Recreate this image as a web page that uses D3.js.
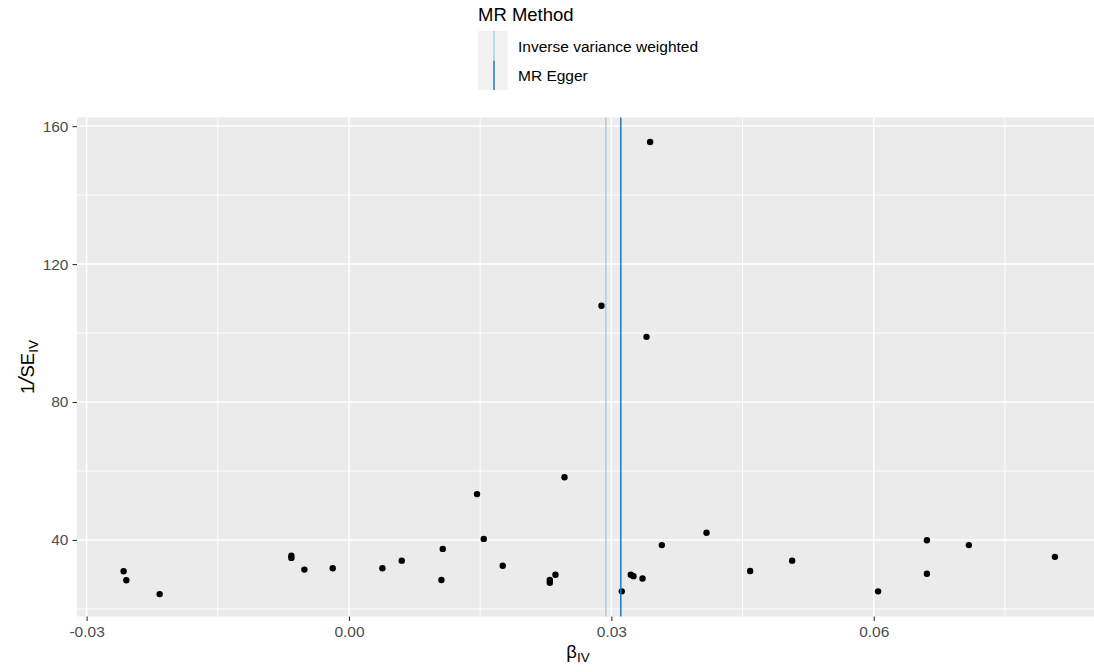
<!DOCTYPE html>
<html lang="en">
<head>
  <meta charset="UTF-8">
  <title>MR Funnel Plot</title>
  <script src="https://d3js.org/d3.v7.min.js"></script>
  <style>
    body { margin: 0; background: #fff; }
    text { font-family: "Liberation Sans", Arial, sans-serif; }
    .axis text { font-size: 15.5px; fill: #4d4d4d; }
    .axis line { stroke: #333; }
    .axis path { display: none; }
    .axis-title { font-size: 18.5px; fill: #000; }
    .legend-title { font-size: 18.5px; fill: #000; }
    .legend-label { font-size: 15.5px; fill: #000; }
  </style>
</head>
<body>
  <div id="chart"></div>
  <script>
    // SNP-level estimates
    const betaIV = [
      -0.02577, -0.02546, -0.02165, -0.00659, -0.00659, -0.0051, -0.00186,
      0.00382, 0.00603, 0.01072, 0.01057, 0.01464, 0.01541, 0.01758, 0.02464,
      0.02296, 0.02296, 0.02361,
      0.02887, 0.03119, 0.03222, 0.03253, 0.03356, 0.03402, 0.03443, 0.03577,
      0.04088, 0.04587, 0.05067, 0.0605, 0.06608, 0.06608, 0.07088, 0.08072
    ];
    const invSE = [
      30.9, 28.3, 24.3, 35.4, 34.8, 31.4, 31.8,
      31.8, 34.0, 37.4, 28.4, 53.3, 40.3, 32.5, 58.2,
      28.4, 27.6, 29.9,
      107.9, 25.1, 29.9, 29.5, 28.8, 98.9, 155.4, 38.5,
      42.1, 31.0, 34.0, 25.1, 39.9, 30.2, 38.5, 35.1
    ];

    // MR method estimates (vertical lines)
    const methods = ["Inverse variance weighted", "MR Egger"];
    const methodEstimates = [0.02937, 0.03108];
    const methodColors = ["#a6cee3", "#1f78b4"];

    const xTicks = [-0.03, 0, 0.03, 0.06];
    const xTickLabels = ["-0.03", "0.00", "0.03", "0.06"];
    const xMinor = [-0.015, 0.015, 0.045, 0.075];
    const yTicks = [40, 80, 120, 160];
    const yMinor = [20, 60, 100, 140];

    const width = 1094, height = 672;
    const panel = { left: 77, right: 1095, top: 117.5, bottom: 616.5 };

    const svg = d3.select("#chart")
      .append("svg")
      .attr("width", width)
      .attr("height", height);

    const x = d3.scaleLinear()
      .domain([-0.0311, 0.0853])
      .range([panel.left, panel.right]);

    const y = d3.scaleLinear()
      .domain([17.8, 162.5])
      .range([panel.bottom, panel.top]);

    // panel background
    svg.append("rect")
      .attr("x", panel.left)
      .attr("y", panel.top)
      .attr("width", panel.right - panel.left)
      .attr("height", panel.bottom - panel.top)
      .attr("fill", "#ebebeb");

    const grid = svg.append("g");

    // minor grid
    grid.selectAll(".xminor").data(xMinor).enter().append("line")
      .attr("x1", d => x(d)).attr("x2", d => x(d))
      .attr("y1", panel.top).attr("y2", panel.bottom)
      .attr("stroke", "#fff").attr("stroke-width", 0.9);
    grid.selectAll(".yminor").data(yMinor).enter().append("line")
      .attr("x1", panel.left).attr("x2", panel.right)
      .attr("y1", d => y(d)).attr("y2", d => y(d))
      .attr("stroke", "#fff").attr("stroke-width", 0.9);

    // major grid
    grid.selectAll(".xmajor").data(xTicks).enter().append("line")
      .attr("x1", d => x(d)).attr("x2", d => x(d))
      .attr("y1", panel.top).attr("y2", panel.bottom)
      .attr("stroke", "#fff").attr("stroke-width", 1.5);
    grid.selectAll(".ymajor").data(yTicks).enter().append("line")
      .attr("x1", panel.left).attr("x2", panel.right)
      .attr("y1", d => y(d)).attr("y2", d => y(d))
      .attr("stroke", "#fff").attr("stroke-width", 1.5);

    // points
    const pts = betaIV.map((b, i) => ({ b: b, s: invSE[i] }));
    svg.append("g").selectAll("circle")
      .data(pts).enter().append("circle")
      .attr("cx", d => x(d.b))
      .attr("cy", d => y(d.s))
      .attr("r", 3.2)
      .attr("fill", "#000");

    // method lines
    svg.append("g").selectAll("line")
      .data(methodEstimates).enter().append("line")
      .attr("x1", d => x(d)).attr("x2", d => x(d))
      .attr("y1", panel.top).attr("y2", panel.bottom)
      .attr("stroke", (d, i) => methodColors[i])
      .attr("stroke-width", 1.5);

    // axes
    const xAxis = svg.append("g")
      .attr("class", "axis")
      .attr("transform", `translate(0,${panel.bottom})`)
      .call(d3.axisBottom(x)
        .tickValues(xTicks)
        .tickFormat((d, i) => xTickLabels[i])
        .tickSize(4.5)
        .tickPadding(5)
        .tickSizeOuter(0));
    xAxis.selectAll(".tick line").attr("stroke-width", 1.1);

    const yAxis = svg.append("g")
      .attr("class", "axis")
      .attr("transform", `translate(${panel.left},0)`)
      .call(d3.axisLeft(y)
        .tickValues(yTicks)
        .tickSize(4.5)
        .tickPadding(4)
        .tickSizeOuter(0));
    yAxis.selectAll(".tick line").attr("stroke-width", 1.1);

    // axis titles
    const xTitle = svg.append("text")
      .attr("class", "axis-title")
      .attr("x", (panel.left + panel.right) / 2 - 8)
      .attr("y", 658)
      .attr("text-anchor", "middle");
    xTitle.append("tspan").text("β");
    xTitle.append("tspan").attr("font-size", "13.5px").attr("dy", 4).text("IV");

    const yTitle = svg.append("text")
      .attr("class", "axis-title")
      .attr("transform", `translate(34,${(panel.top + panel.bottom) / 2}) rotate(-90)`)
      .attr("text-anchor", "middle");
    yTitle.append("tspan").text("1");
    yTitle.append("tspan").attr("font-size", "22px").attr("font-style", "italic").text("/");
    yTitle.append("tspan").text("SE");
    yTitle.append("tspan").attr("font-size", "13.5px").attr("dy", 4).text("IV");

    // legend
    const legend = svg.append("g").attr("transform", "translate(478,0)");
    legend.append("text")
      .attr("class", "legend-title")
      .attr("x", 0).attr("y", 21)
      .text("MR Method");

    const keys = legend.selectAll(".key")
      .data(methods).enter().append("g")
      .attr("transform", (d, i) => `translate(0,${31 + i * 29.5})`);
    keys.append("rect")
      .attr("width", 29.5).attr("height", 29.5)
      .attr("fill", "#f2f2f2");
    keys.append("line")
      .attr("x1", 16).attr("x2", 16)
      .attr("y1", 0).attr("y2", 29.5)
      .attr("stroke", (d, i) => methodColors[i])
      .attr("stroke-width", 1.5);
    keys.append("text")
      .attr("class", "legend-label")
      .attr("x", 40).attr("y", 20.5)
      .text(d => d);
  </script>
</body>
</html>
